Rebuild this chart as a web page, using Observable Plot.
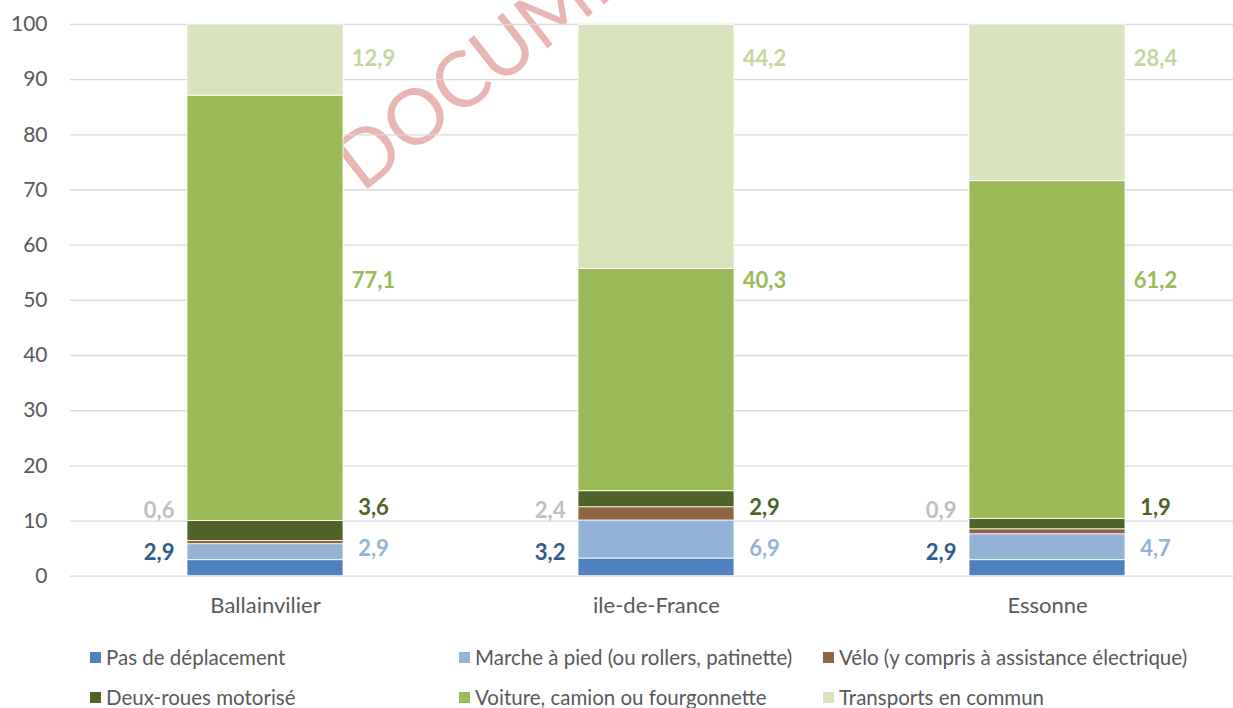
<!DOCTYPE html>
<html><head><meta charset="utf-8">
<script src="https://cdn.jsdelivr.net/npm/d3@7"></script>
<script src="https://cdn.jsdelivr.net/npm/@observablehq/plot@0.6"></script>
<style>
html,body{margin:0;padding:0;background:#fff;overflow:hidden;}
body{width:1233px;height:708px;position:relative;font-family:Lato,"Open Sans",sans-serif;}
#wm{position:absolute;left:0;top:0;z-index:0;}
#chart{position:absolute;left:0;top:0;z-index:1;}
#legend{position:absolute;left:0;top:630px;width:1233px;padding-top:7px;padding-left:90px;box-sizing:border-box;
  display:grid;grid-template-columns:369px 364px auto;grid-auto-rows:40px;z-index:2;}
.item{display:flex;align-items:center;font-size:20.5px;color:#595959;white-space:nowrap;}
.sw{width:11px;height:11px;margin-right:5px;flex:none;}
</style></head>
<body>
<svg id="wm" width="1233" height="708"><text x="362" y="193" transform="rotate(-38 362 193)" font-size="77" font-weight="400" fill="#e8b4b4" font-family="Lato, sans-serif">DOCUMENT</text></svg>
<div id="chart"></div>
<div id="legend"></div>
<script>
const categories = ["Ballainvilier", "ile-de-France", "Essonne"];
const series = ["Pas de déplacement", "Marche à pied (ou rollers, patinette)", "Vélo (y compris à assistance électrique)", "Deux-roues motorisé", "Voiture, camion ou fourgonnette", "Transports en commun"];
const pasDeDeplacement = [2.9, 3.2, 2.9];
const marcheAPied = [2.9, 6.9, 4.7];
const velo = [0.6, 2.4, 0.9];
const deuxRoues = [3.6, 2.9, 1.9];
const voiture = [77.1, 40.3, 61.2];
const transports = [12.9, 44.2, 28.4];
const yTicks = [0, 10, 20, 30, 40, 50, 60, 70, 80, 90, 100];

const values = [pasDeDeplacement, marcheAPied, velo, deuxRoues, voiture, transports];
const barColors = ["#4f81bd", "#95b3d7", "#8e6441", "#4f6228", "#9bbb59", "#d7e4bd"];
const labelColors = ["#2f5b8f", "#95b3d7", "#bfbfbf", "#4f6228", "#9bbb59", "#c3d69b"];
// label anchor heights (manually placed labels in original)
const labelAnchor = [4.3, 5.0, 11.9, 12.4, 53.5, 93.8];
const leftSide = [true, false, true, false, false, false];

const data = series.flatMap((s, i) => categories.map((c, j) => ({category: c, series: s, si: i, value: values[i][j]})));
const fmt = v => v.toFixed(1).replace(".", ",");

const chart = Plot.plot({
  width: 1233, height: 630,
  marginTop: 24, marginBottom: 54.3, marginLeft: 70, marginRight: 0,
  style: {fontFamily: "Lato, 'Open Sans', sans-serif", fontSize: "21px", color: "#595959", background: "transparent", overflow: "visible"},
  x: {domain: categories, range: [70, 1243], paddingInner: 0.6, paddingOuter: 0.3, label: null},
  y: {domain: [0, 100], label: null},
  color: {domain: series, range: barColors},
  marks: [
    Plot.gridY(yTicks, {stroke: "#d9d9d9", strokeOpacity: 1, strokeWidth: 1.3}),
    Plot.axisY(yTicks, {tickSize: 0, tickPadding: 23, fontSize: 21, label: null}),
    Plot.axisX({tickSize: 0, tickPadding: 21, fontSize: 22, label: null}),
    Plot.barY(data, {x: "category", y: "value", fill: "series", stroke: "white", strokeWidth: 0.8}),
    Plot.text(data.filter(d => leftSide[d.si]), {
      x: "category", y: d => labelAnchor[d.si], text: d => fmt(d.value),
      fill: d => labelColors[d.si], textAnchor: "end", dx: -91, fontWeight: "bold", fontSize: 22
    }),
    Plot.text(data.filter(d => !leftSide[d.si]), {
      x: "category", y: d => labelAnchor[d.si], text: d => fmt(d.value),
      fill: d => labelColors[d.si], textAnchor: "middle", dx: 108, fontWeight: "bold", fontSize: 22
    })
  ]
});
document.getElementById("chart").appendChild(chart);

const legend = document.getElementById("legend");
series.forEach((s, i) => {
  const it = document.createElement("div");
  it.className = "item";
  const sw = document.createElement("span");
  sw.className = "sw";
  sw.style.background = barColors[i];
  it.appendChild(sw);
  it.appendChild(document.createTextNode(s));
  legend.appendChild(it);
});
</script>
</body></html>
